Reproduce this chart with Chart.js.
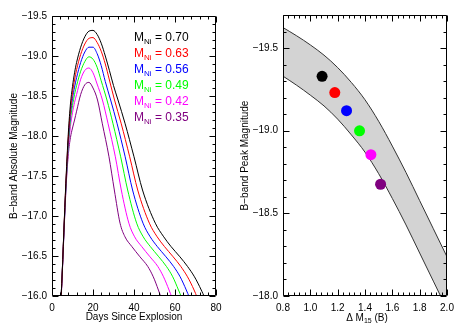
<!DOCTYPE html>
<html>
<head>
<meta charset="utf-8">
<script src="https://cdn.jsdelivr.net/npm/chart.js@4.4.0/dist/chart.umd.min.js"></script>
<style>
  html, body { margin: 0; padding: 0; background: #fff; }
  #wrap { position: relative; width: 463px; height: 331px; }
  #left { position: absolute; left: 0; top: 0; }
  #right { position: absolute; left: 231px; top: 0; }
</style>
</head>
<body>
<div id="wrap">
  <canvas id="left" width="231" height="331"></canvas>
  <canvas id="right" width="232" height="331"></canvas>
</div>
<script>
// ---- left panel: model B-band light curves (days since explosion, abs. mag) ----
const daysNi070 = [4, 5, 6, 7, 8, 9, 10, 11, 12, 14, 16, 18, 20, 22, 24, 26, 28, 30,
  32.2, 35.6, 40.0, 44.15, 50.4, 54.5, 58.0, 62.4, 66.1, 69.5, 72.8, 74.4, 75.9];
const magNi070 = [-15.75, -16.30, -16.95, -17.55, -18.05, -18.40, -18.62, -18.79, -18.92,
  -19.11, -19.24, -19.31, -19.32, -19.27, -19.16, -19.00, -18.82, -18.63,
  -18.45, -18.16, -17.74, -17.325, -16.91, -16.74, -16.62, -16.49, -16.37, -16.24, -16.075, -15.98, -15.85];

const daysNi063 = [4, 5, 6, 7, 8, 9, 10, 11, 12, 14, 16, 18, 20, 22, 24, 26, 28,
  30.5, 33.7, 37.9, 41.8, 47.5, 51.3, 54.8, 59.1, 62.8, 66.1, 69.3, 70.8, 72.3];
const magNi063 = [-15.75, -16.30, -16.95, -17.53, -18.00, -18.33, -18.54, -18.70, -18.83,
  -19.02, -19.15, -19.22, -19.23, -19.17, -19.06, -18.90, -18.70,
  -18.45, -18.16, -17.74, -17.325, -16.91, -16.74, -16.62, -16.49, -16.37, -16.24, -16.075, -15.98, -15.85];

const daysNi056 = [4, 5, 6, 7, 8, 9, 10, 11, 12, 14, 16, 18, 20, 22, 24, 26,
  28.6, 31.7, 35.7, 39.3, 44.4, 47.9, 51.3, 55.6, 59.3, 62.5, 65.5, 67.0, 68.5];
const magNi056 = [-15.75, -16.30, -16.93, -17.50, -17.95, -18.27, -18.47, -18.61, -18.73,
  -18.92, -19.05, -19.11, -19.11, -19.03, -18.88, -18.68,
  -18.45, -18.16, -17.74, -17.325, -16.91, -16.74, -16.62, -16.49, -16.37, -16.24, -16.075, -15.98, -15.85];

const daysNi049 = [4, 5, 6, 7, 8, 9, 10, 11, 12, 14, 16, 18, 20, 22, 24,
  26.8, 29.7, 33.5, 36.9, 41.3, 44.5, 47.9, 52.1, 55.8, 58.9, 61.7, 63.2, 64.7];
const magNi049 = [-15.75, -16.30, -16.92, -17.47, -17.90, -18.20, -18.38, -18.52, -18.63,
  -18.81, -18.93, -18.99, -18.96, -18.86, -18.69,
  -18.45, -18.16, -17.74, -17.325, -16.91, -16.74, -16.62, -16.49, -16.37, -16.24, -16.075, -15.98, -15.85];

const daysNi042 = [4, 5, 6, 7, 8, 9, 10, 11, 12, 14, 16, 18, 20, 22,
  24.6, 27.3, 30.9, 33.8, 37.5, 40.3, 43.7, 47.8, 51.6, 54.4, 57.1, 58.5, 60.1];
const magNi042 = [-15.72, -16.28, -16.90, -17.45, -17.85, -18.12, -18.29, -18.42, -18.52,
  -18.71, -18.82, -18.85, -18.79, -18.65,
  -18.45, -18.16, -17.74, -17.325, -16.91, -16.74, -16.62, -16.49, -16.37, -16.24, -16.075, -15.98, -15.85];

const daysNi035 = [4, 5, 6, 7, 8, 9, 10, 11, 12, 14, 16, 18, 20,
  22.2, 24.5, 27.8, 30.4, 33.2, 35.6, 38.9, 42.9, 46.7, 49.4, 51.9, 53.2, 54.8];
const magNi035 = [-15.70, -16.27, -16.88, -17.42, -17.78, -17.98, -18.10, -18.20, -18.31,
  -18.52, -18.64, -18.67, -18.60,
  -18.45, -18.16, -17.74, -17.325, -16.91, -16.74, -16.62, -16.49, -16.37, -16.24, -16.075, -15.98, -15.85];

const niMasses = ["0.70", "0.63", "0.56", "0.49", "0.42", "0.35"];
const curveColors = ["#000000", "#ff0000", "#0000ff", "#00ff00", "#ff00ff", "#800080"];

// ---- right panel: peak magnitude vs decline rate ----
const dm15 = [1.086, 1.179, 1.265, 1.360, 1.443, 1.514];
const peakMag = [-19.329, -19.231, -19.121, -18.999, -18.855, -18.676];

const bandDm15 = [0.8, 0.9, 1.0, 1.1, 1.2, 1.3, 1.4, 1.5, 1.6, 1.7, 1.8, 1.9, 2.0];
const bandBright = [-19.624, -19.574, -19.519, -19.457, -19.382, -19.292, -19.187, -19.057,
  -18.907, -18.747, -18.577, -18.407, -18.237];
const bandFaint = [-19.33, -19.275, -19.215, -19.15, -19.07, -18.975, -18.87, -18.74,
  -18.59, -18.43, -18.26, -18.09, -17.92];

const FONT = '"Liberation Sans", Arial, Helvetica, sans-serif';

function isMultiple(v, step) {
  const r = v / step;
  return Math.abs(r - Math.round(r)) < 1e-6;
}

function fmtMag(v) {
  return v.toFixed(1).replace("-", "\u2212");
}

function toPoints(xs, ys) {
  return xs.map((x, i) => ({ x, y: ys[i] }));
}

// IDL-style box with inward ticks on all four sides
const framePlugin = {
  id: "frame",
  afterDatasetsDraw(chart, args, opts) {
    const { ctx, chartArea: a, scales } = chart;
    const left = Math.round(a.left) + 0.5;
    const right = Math.round(a.right) - 0.5;
    const top = Math.round(a.top) + 0.5;
    const bottom = Math.round(a.bottom) - 0.5;
    ctx.save();
    ctx.strokeStyle = "#000";
    ctx.lineWidth = 1;
    ctx.beginPath();
    ctx.rect(left, top, right - left, bottom - top);
    scales.x.ticks.forEach((t) => {
      const px = Math.round(scales.x.getPixelForValue(t.value)) + 0.5;
      const len = isMultiple(t.value, opts.xMajor) ? 6 : 3;
      ctx.moveTo(px, bottom); ctx.lineTo(px, bottom - len);
      ctx.moveTo(px, top); ctx.lineTo(px, top + len);
    });
    scales.y.ticks.forEach((t) => {
      const py = Math.round(scales.y.getPixelForValue(t.value)) + 0.5;
      const len = isMultiple(t.value, opts.yMajor) ? 6 : 3;
      ctx.moveTo(left, py); ctx.lineTo(left + len, py);
      ctx.moveTo(right, py); ctx.lineTo(right - len, py);
    });
    ctx.stroke();
    ctx.restore();
  },
};

function drawSubText(ctx, x, y, parts, color) {
  // parts: [text, size, dy]
  ctx.save();
  ctx.fillStyle = color;
  ctx.textAlign = "left";
  ctx.textBaseline = "alphabetic";
  parts.forEach(([text, size, dy]) => {
    ctx.font = `${size}px ${FONT}`;
    ctx.fillText(text, x, y + dy);
    x += ctx.measureText(text).width;
  });
  ctx.restore();
}

function subTextWidth(ctx, parts) {
  let w = 0;
  ctx.save();
  parts.forEach(([text, size]) => {
    ctx.font = `${size}px ${FONT}`;
    w += ctx.measureText(text).width;
  });
  ctx.restore();
  return w;
}

function drawYTitle(ctx, text, x, cy) {
  ctx.save();
  ctx.fillStyle = "#000";
  ctx.font = `10px ${FONT}`;
  ctx.textAlign = "center";
  ctx.textBaseline = "alphabetic";
  ctx.translate(x, cy);
  ctx.rotate(-Math.PI / 2);
  ctx.fillText(text, 0, 0);
  ctx.restore();
}

const leftText = {
  id: "leftText",
  afterDraw(chart) {
    const { ctx, chartArea: a } = chart;
    ctx.save();
    ctx.fillStyle = "#000";
    ctx.font = `10px ${FONT}`;
    ctx.textAlign = "center";
    ctx.fillText("Days Since Explosion", (a.left + a.right) / 2, 320);
    ctx.restore();
    drawYTitle(ctx, "B\u2212band Absolute Magnitude", 17, (a.top + a.bottom) / 2);
    niMasses.forEach((m, i) => {
      drawSubText(ctx, 134, 40.7 + 16 * i,
        [["M", 12, 0], ["Ni", 8, 3], [" = " + m, 12, 0]], curveColors[i]);
    });
  },
};

const rightText = {
  id: "rightText",
  afterDraw(chart) {
    const { ctx, chartArea: a } = chart;
    const parts = [["\u0394 M", 10, 0], ["15", 7, 2.5], [" (B)", 10, 0]];
    const w = subTextWidth(ctx, parts);
    drawSubText(ctx, 136 - w / 2, 320.5, parts, "#000");
    drawYTitle(ctx, "B\u2212band Peak Magnitude", 16.5, (a.top + a.bottom) / 2);
  },
};

const tickFont = { size: 10, family: FONT };

const curveDays = [daysNi070, daysNi063, daysNi056, daysNi049, daysNi042, daysNi035];
const curveMags = [magNi070, magNi063, magNi056, magNi049, magNi042, magNi035];

const leftChart = new Chart(document.getElementById("left"), {
  type: "line",
  data: {
    datasets: curveMags.map((mags, i) => ({
      data: toPoints(curveDays[i], mags),
      borderColor: curveColors[i],
      borderWidth: 1,
      pointRadius: 0,
      cubicInterpolationMode: "monotone",
      fill: false,
    })),
  },
  options: {
    responsive: false,
    animation: false,
    events: [],
    devicePixelRatio: 1,
    layout: { padding: { left: 0, right: 15, top: 16, bottom: 0 } },
    plugins: {
      legend: { display: false },
      tooltip: { enabled: false },
      frame: { xMajor: 20, yMajor: 0.5 },
    },
    scales: {
      x: {
        type: "linear",
        min: 0,
        max: 80,
        afterFit(s) { s.height = 35; },
        grid: { display: false, drawTicks: false },
        border: { display: false },
        ticks: {
          stepSize: 4,
          autoSkip: false,
          maxRotation: 0,
          padding: 6,
          color: "#000",
          font: tickFont,
          callback: (v) => (isMultiple(v, 20) ? String(Math.round(v)) : ""),
        },
      },
      y: {
        type: "linear",
        reverse: true,
        min: -19.5,
        max: -16.0,
        afterFit(s) { s.width = 52; },
        grid: { display: false, drawTicks: false },
        border: { display: false },
        ticks: {
          stepSize: 0.1,
          autoSkip: false,
          padding: 5,
          color: "#000",
          font: tickFont,
          callback: (v) => (isMultiple(v, 0.5) ? fmtMag(v) : ""),
        },
      },
    },
  },
  plugins: [framePlugin, leftText],
});

const rightChart = new Chart(document.getElementById("right"), {
  type: "line",
  data: {
    datasets: [
      {
        data: toPoints(dm15, peakMag),
        showLine: false,
        pointRadius: 5.5,
        pointBorderWidth: 0,
        pointBackgroundColor: curveColors,
        pointBorderColor: curveColors,
      },
      {
        data: toPoints(bandDm15, bandBright),
        borderColor: "#333333",
        borderWidth: 1,
        pointRadius: 0,
        cubicInterpolationMode: "monotone",
        fill: false,
      },
      {
        data: toPoints(bandDm15, bandFaint),
        borderColor: "#333333",
        borderWidth: 1,
        pointRadius: 0,
        cubicInterpolationMode: "monotone",
        backgroundColor: "#d3d3d3",
        fill: "-1",
      },
    ],
  },
  options: {
    responsive: false,
    animation: false,
    events: [],
    devicePixelRatio: 1,
    layout: { padding: { left: 0, right: 16, top: 15, bottom: 0 } },
    plugins: {
      legend: { display: false },
      tooltip: { enabled: false },
      frame: { xMajor: 0.2, yMajor: 0.5 },
    },
    scales: {
      x: {
        type: "linear",
        min: 0.8,
        max: 2.0,
        afterFit(s) { s.height = 35; },
        grid: { display: false, drawTicks: false },
        border: { display: false },
        ticks: {
          stepSize: 0.04,
          autoSkip: false,
          maxRotation: 0,
          padding: 6,
          color: "#000",
          font: tickFont,
          callback: (v) => (isMultiple(v, 0.2) ? v.toFixed(1) : ""),
        },
      },
      y: {
        type: "linear",
        reverse: true,
        min: -19.7,
        max: -18.0,
        afterFit(s) { s.width = 52; },
        grid: { display: false, drawTicks: false },
        border: { display: false },
        ticks: {
          stepSize: 0.1,
          autoSkip: false,
          padding: 5,
          color: "#000",
          font: tickFont,
          callback: (v) => (isMultiple(v, 0.5) ? fmtMag(v) : ""),
        },
      },
    },
  },
  plugins: [framePlugin, rightText],
});
</script>
</body>
</html>
